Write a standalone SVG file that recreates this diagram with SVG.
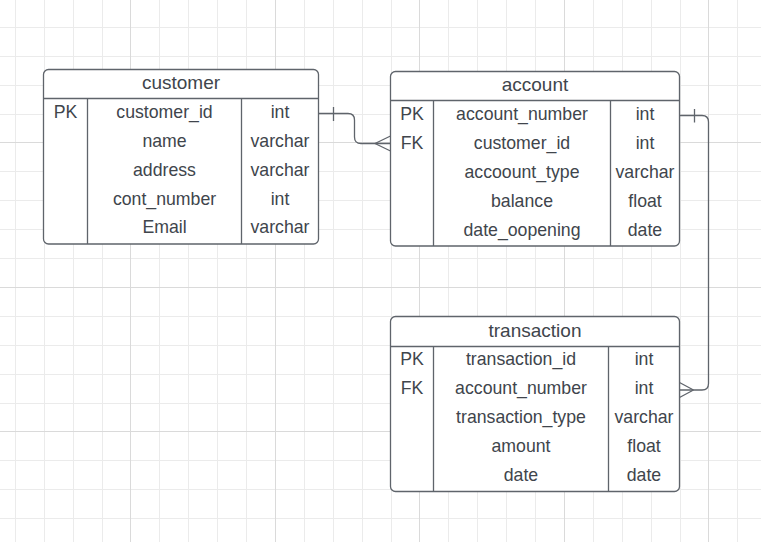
<svg xmlns="http://www.w3.org/2000/svg" width="761" height="542" viewBox="0 0 761 542">
<style>
.minor{stroke:#ebebeb;stroke-width:1;fill:none}
.major{stroke:#dadada;stroke-width:1;fill:none}
.box{fill:#ffffff;stroke:#5f646b;stroke-width:1.3}
.div{stroke:#5f646b;stroke-width:1.3;fill:none}
.conn{stroke:#5f646b;stroke-width:1.3;fill:none}
text{font-family:"Liberation Sans",Arial,sans-serif;font-size:17.7px;fill:#40454c;text-anchor:middle}
text.title{font-size:19px}
</style>
<rect width="761" height="542" fill="#ffffff"/>
<g id="grid">
<path class="minor" d="M15.5,0V542M44.5,0V542M73.5,0V542M102.5,0V542M159.5,0V542M188.5,0V542M217.5,0V542M246.5,0V542M304.5,0V542M333.5,0V542M362.5,0V542M391.5,0V542M448.5,0V542M477.5,0V542M506.5,0V542M535.5,0V542M593.5,0V542M622.5,0V542M651.5,0V542M680.5,0V542M737.5,0V542"/>
<path class="minor" d="M0,27.5H761M0,56.5H761M0,85.5H761M0,114.5H761M0,171.5H761M0,200.5H761M0,229.5H761M0,258.5H761M0,316.5H761M0,345.5H761M0,374.5H761M0,403.5H761M0,460.5H761M0,489.5H761M0,518.5H761"/>
<path class="major" d="M130.5,0V542M275.5,0V542M419.5,0V542M564.5,0V542M708.5,0V542M0,142.5H761M0,287.5H761M0,431.5H761"/>
</g>
<g id="connectors">
<path class="conn" d="M318.5,113.5H348Q354.5,113.5 354.5,120V137Q354.5,143.5 361,143.5H390.5"/>
<path class="conn" d="M333.5,107V121"/>
<path class="conn" d="M375,143.5L390.5,136M375,143.5L390.5,151"/>
<path class="conn" d="M679.5,115.5H702Q708.5,115.5 708.5,122V383.5Q708.5,390 702,390H679.5"/>
<path class="conn" d="M694.5,109V122.5"/>
<path class="conn" d="M693.5,390L679.5,382.5M693.5,390L679.5,397.5"/>
</g>
<g id="customer">
<rect class="box" x="43.5" y="69.5" width="275" height="174.5" rx="5"/>
<path class="div" d="M43.5,98.5H318.5M87.5,98.5V244M241.5,98.5V244"/>
<text class="title" x="181" y="89">customer</text>
<text x="65.5" y="117.7">PK</text>
<text x="164.5" y="117.7">customer_id</text>
<text x="280" y="117.7">int</text>
<text x="164.5" y="146.7">name</text>
<text x="280" y="146.7">varchar</text>
<text x="164.5" y="175.7">address</text>
<text x="280" y="175.7">varchar</text>
<text x="164.5" y="204.5">cont_number</text>
<text x="280" y="204.5">int</text>
<text x="164.5" y="233.4">Email</text>
<text x="280" y="233.4">varchar</text>
</g>
<g id="account">
<rect class="box" x="390.5" y="71.5" width="289" height="174.5" rx="5"/>
<path class="div" d="M390.5,100.5H679.5M433.5,100.5V246M610.5,100.5V246"/>
<text class="title" x="535" y="91">account</text>
<text x="412" y="120">PK</text>
<text x="522" y="120">account_number</text>
<text x="645" y="120">int</text>
<text x="412" y="149">FK</text>
<text x="522" y="149">customer_id</text>
<text x="645" y="149">int</text>
<text x="522" y="178">accoount_type</text>
<text x="645" y="178">varchar</text>
<text x="522" y="206.8">balance</text>
<text x="645" y="206.8">float</text>
<text x="522" y="235.6">date_oopening</text>
<text x="645" y="235.6">date</text>
</g>
<g id="transaction">
<rect class="box" x="390.5" y="316.5" width="289" height="175" rx="5"/>
<path class="div" d="M390.5,346.5H679.5M433.5,346.5V491.5M608.5,346.5V491.5"/>
<text class="title" x="535" y="336.7">transaction</text>
<text x="412" y="365">PK</text>
<text x="521" y="365">transaction_id</text>
<text x="644" y="365">int</text>
<text x="412" y="394">FK</text>
<text x="521" y="394">account_number</text>
<text x="644" y="394">int</text>
<text x="521" y="423">transaction_type</text>
<text x="644" y="423">varchar</text>
<text x="521" y="452">amount</text>
<text x="644" y="452">float</text>
<text x="521" y="480.8">date</text>
<text x="644" y="480.8">date</text>
</g>
</svg>
